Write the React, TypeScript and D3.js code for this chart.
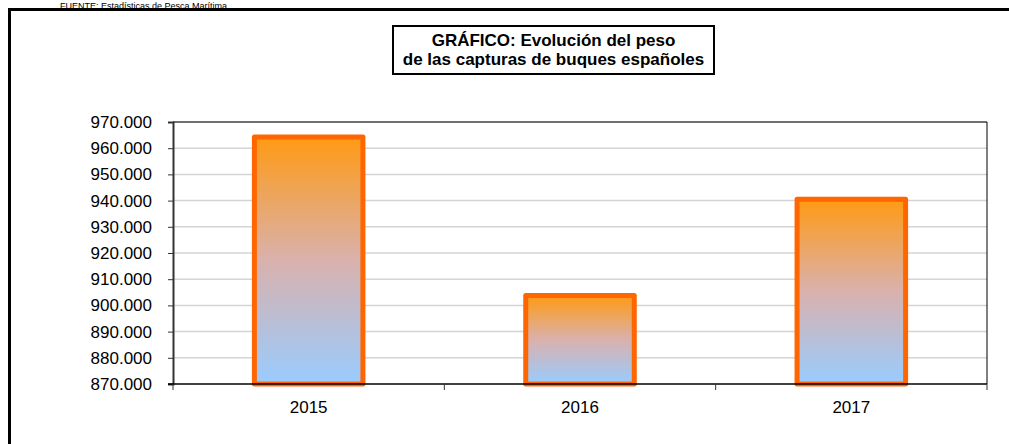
import { useEffect, useRef } from "react";
import * as d3 from "d3";

const years = ["2015", "2016", "2017"];
const capturas = [964300, 903800, 940500];
const yTicks = [870000, 880000, 890000, 900000, 910000, 920000, 930000, 940000, 950000, 960000, 970000];
const titleLines = ["GRÁFICO: Evolución del peso", "de las capturas de buques españoles"];
const sourceText = "FUENTE: Estadísticas de Pesca Marítima";

export default function App() {
  const svgRef = useRef<SVGSVGElement>(null);

  useEffect(() => {
    const svg = d3.select(svgRef.current);
    svg.selectAll("*").remove();

    const width = 1009, height = 444;
    const left = 173, right = 987, top = 122, bottom = 384;
    const font = "Arial, 'Liberation Sans', sans-serif";

    const x = d3.scaleBand().domain(years).range([left, right]).padding(0);
    const y = d3.scaleLinear().domain([870000, 970000]).range([bottom, top]);
    const fmt = (v: number) => d3.format(",")(v).replace(/,/g, ".");

    const defs = svg.append("defs");
    const grad = defs.append("linearGradient").attr("id", "barGrad")
      .attr("x1", 0).attr("y1", 0).attr("x2", 0).attr("y2", 1);
    grad.append("stop").attr("offset", "0%").attr("stop-color", "#ff9a14");
    grad.append("stop").attr("offset", "50%").attr("stop-color", "#d9b1ad");
    grad.append("stop").attr("offset", "100%").attr("stop-color", "#99ccff");

    svg.append("rect").attr("width", width).attr("height", height).attr("fill", "#fff");

    // source note above the frame
    svg.append("text").attr("x", 60).attr("y", 8.5)
      .style("font-family", font).style("font-size", "9px").attr("fill", "#000")
      .text(sourceText);

    // outer frame
    svg.append("rect").attr("x", 9.5).attr("y", 9.5).attr("width", 1100).attr("height", 500)
      .attr("fill", "none").attr("stroke", "#000").attr("stroke-width", 3);

    // title box
    svg.append("rect").attr("x", 393).attr("y", 26).attr("width", 321).attr("height", 48)
      .attr("fill", "#fff").attr("stroke", "#000").attr("stroke-width", 2);
    titleLines.forEach((t, i) => {
      svg.append("text").attr("x", 553.5).attr("y", 46 + i * 19).attr("text-anchor", "middle")
        .style("font-family", font).style("font-size", "17px").style("font-weight", "bold")
        .text(t);
    });

    // gridlines
    svg.append("g").selectAll("line").data(yTicks.slice(1)).enter().append("line")
      .attr("x1", left).attr("x2", right)
      .attr("y1", d => y(d)).attr("y2", d => y(d))
      .attr("stroke", "#d4d4d4").attr("stroke-width", 1.5);

    // plot border top & right
    svg.append("line").attr("x1", left).attr("x2", right).attr("y1", top).attr("y2", top)
      .attr("stroke", "#000").attr("stroke-width", 1);
    svg.append("line").attr("x1", right).attr("x2", right).attr("y1", top).attr("y2", bottom)
      .attr("stroke", "#000").attr("stroke-width", 1);

    // bars
    const bw = x.bandwidth() * 0.4;
    svg.append("g").selectAll("rect").data(years).enter().append("rect")
      .attr("x", (d) => (x(d) as number) + x.bandwidth() / 2 - bw / 2)
      .attr("width", bw)
      .attr("y", (_d, i) => y(capturas[i]))
      .attr("height", (_d, i) => bottom - y(capturas[i]))
      .attr("fill", "url(#barGrad)")
      .attr("stroke", "#ff6600").attr("stroke-width", 5).attr("stroke-linejoin", "round");

    // y axis
    const yAxis = svg.append("g").attr("transform", `translate(${left},0)`)
      .call(d3.axisLeft(y).tickValues(yTicks).tickSize(5).tickPadding(16).tickFormat(d => fmt(d as number)));
    yAxis.select(".domain").attr("stroke", "#333").attr("stroke-width", 2);
    yAxis.selectAll(".tick line").attr("stroke", "#333");
    yAxis.selectAll("text").style("font-family", font).style("font-size", "17px").attr("fill", "#000");

    // x axis
    svg.append("line").attr("x1", left - 5).attr("x2", right).attr("y1", bottom).attr("y2", bottom)
      .attr("stroke", "#000").attr("stroke-width", 1.5);
    const bounds = [left, ...years.map(d => (x(d) as number) + x.bandwidth())];
    svg.append("g").selectAll("line").data(bounds).enter().append("line")
      .attr("x1", d => d).attr("x2", d => d).attr("y1", bottom).attr("y2", bottom + 6)
      .attr("stroke", "#333").attr("stroke-width", 1);
    svg.append("g").selectAll("text").data(years).enter().append("text")
      .attr("x", d => (x(d) as number) + x.bandwidth() / 2).attr("y", 413)
      .attr("text-anchor", "middle")
      .style("font-family", font).style("font-size", "17px")
      .text(d => d);
  }, []);

  return (
    <svg ref={svgRef} width={1009} height={444}
      style={{ position: "absolute", left: 0, top: 0, display: "block" }} />
  );
}
